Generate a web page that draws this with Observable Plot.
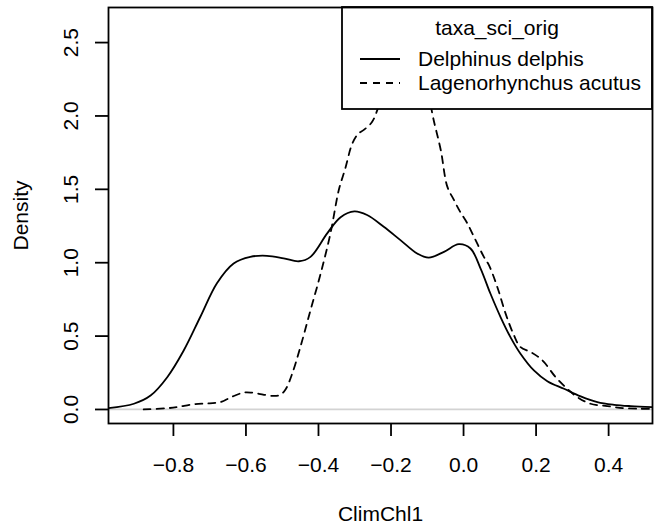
<!DOCTYPE html>
<html>
<head>
<meta charset="utf-8">
<script src="https://cdn.jsdelivr.net/npm/d3@7"></script>
<script src="https://cdn.jsdelivr.net/npm/@observablehq/plot@0.6"></script>
<style>
  html, body { margin: 0; padding: 0; background: #fff; }
  #chart svg { display: block; }
</style>
</head>
<body>
<div id="chart"></div>
<script>
// ---- data ----
const seriesNames = ["Delphinus delphis", "Lagenorhynchus acutus"];
const legendTitle = "taxa_sci_orig";
const xTitle = "ClimChl1";
const yTitle = "Density";
const xTicks = [-0.8, -0.6, -0.4, -0.2, 0.0, 0.2, 0.4];
const yTicks = [0.0, 0.5, 1.0, 1.5, 2.0, 2.5];
const xDomain = [-0.979, 0.521];
const yDomain = [-0.0956, 2.739];

const delphinusX = [-0.979,-0.909,-0.863,-0.817,-0.772,-0.726,-0.68,-0.634,-0.588,-0.542,-0.496,-0.454,-0.422,-0.376,-0.339,-0.301,-0.266,-0.22,-0.174,-0.128,-0.096,-0.054,-0.013,0.019,0.047,0.074,0.102,0.13,0.157,0.194,0.231,0.277,0.323,0.369,0.415,0.461,0.521];
const delphinusY = [0.009,0.039,0.095,0.22,0.40,0.63,0.86,0.995,1.04,1.047,1.03,1.01,1.04,1.2,1.31,1.35,1.325,1.245,1.154,1.063,1.035,1.074,1.126,1.097,0.96,0.79,0.63,0.49,0.38,0.266,0.193,0.141,0.089,0.05,0.032,0.023,0.016];

const lagenoX = [-0.882,-0.82,-0.79,-0.744,-0.70,-0.67,-0.64,-0.606,-0.585,-0.55,-0.523,-0.505,-0.49,-0.473,-0.45,-0.422,-0.394,-0.367,-0.344,-0.326,-0.307,-0.29,-0.275,-0.252,-0.235,-0.21,-0.18,-0.15,-0.12,-0.10,-0.084,-0.063,-0.045,-0.027,-0.01,0.01,0.03,0.056,0.07,0.093,0.116,0.139,0.157,0.185,0.205,0.222,0.254,0.286,0.314,0.35,0.396,0.442,0.488,0.521];
const lagenoY = [0.0,0.008,0.016,0.036,0.042,0.05,0.085,0.115,0.115,0.1,0.092,0.1,0.14,0.24,0.425,0.676,0.926,1.2,1.495,1.643,1.81,1.88,1.905,1.96,2.06,2.25,2.42,2.48,2.4,2.2,1.99,1.77,1.52,1.43,1.35,1.27,1.17,1.04,0.983,0.835,0.653,0.505,0.425,0.391,0.36,0.323,0.22,0.141,0.084,0.039,0.023,0.009,0.005,0.004];

// ---- build tables ----
const delphinus = delphinusX.map((x, i) => ({x, y: delphinusY[i], taxa: seriesNames[0]}));
const lageno = lagenoX.map((x, i) => ({x, y: lagenoY[i], taxa: seriesNames[1]}));

const fmt = d3.format(".1f");
const FONT = "'Liberation Sans', Arial, Helvetica, sans-serif";
const FS = 21;
const LW = 1.8;
const DASH = "7,6";

function legendMark(index, scales, values, dims) {
  const right = dims.width - dims.marginRight;
  const top = dims.marginTop;
  const w = 310, h = 102;
  const left = right - w;
  const g = d3.create("svg:g").attr("font-family", FONT).attr("font-size", FS);
  g.append("rect").attr("x", left).attr("y", top).attr("width", w).attr("height", h)
    .attr("fill", "white").attr("stroke", "black").attr("stroke-width", LW);
  g.append("text").attr("x", left + w / 2).attr("y", top + 21).attr("dy", "0.35em")
    .attr("text-anchor", "middle").attr("fill", "black").text(legendTitle);
  seriesNames.forEach((name, i) => {
    const yy = top + 52 + i * 24;
    g.append("line").attr("x1", left + 18).attr("x2", left + 58).attr("y1", yy).attr("y2", yy)
      .attr("stroke", "black").attr("stroke-width", LW)
      .attr("stroke-dasharray", i === 0 ? null : DASH);
    g.append("text").attr("x", left + 76).attr("y", yy).attr("dy", "0.35em")
      .attr("text-anchor", "start").attr("fill", "black").text(name);
  });
  return g.node();
}

const chart = Plot.plot({
  width: 654,
  height: 531,
  marginLeft: 108,
  marginRight: 2,
  marginTop: 7,
  marginBottom: 108,
  style: {fontFamily: FONT, fontSize: FS + "px", background: "white", color: "black"},
  x: {domain: xDomain},
  y: {domain: yDomain},
  marks: [
    Plot.ruleY([0], {stroke: "#d3d3d3", strokeWidth: 1.8}),
    Plot.line(delphinus, {x: "x", y: "y", stroke: "black", strokeWidth: LW, curve: "catmull-rom", clip: true}),
    Plot.line(lageno, {x: "x", y: "y", stroke: "black", strokeWidth: LW, strokeDasharray: DASH, curve: "catmull-rom", clip: true}),
    legendMark,
    Plot.frame({stroke: "black", strokeWidth: LW}),
    Plot.axisX({ticks: xTicks, tickSize: 13, tickFormat: () => "", label: null, strokeWidth: LW}),
    Plot.axisY({ticks: yTicks, tickSize: 13, tickFormat: () => "", label: null, strokeWidth: LW}),
    Plot.text(xTicks, {x: d => d, text: d => fmt(d), frameAnchor: "bottom", dy: 42, lineAnchor: "middle", fill: "black"}),
    Plot.text(yTicks, {y: d => d, text: d => fmt(d), frameAnchor: "left", dx: -37, rotate: -90, lineAnchor: "middle", textAnchor: "middle", fill: "black"}),
    Plot.text([xTitle], {text: d => d, frameAnchor: "bottom", dy: 91, lineAnchor: "middle", fill: "black"}),
    Plot.text([yTitle], {text: d => d, frameAnchor: "left", dx: -87, rotate: -90, lineAnchor: "middle", textAnchor: "middle", fill: "black"})
  ]
});
document.getElementById("chart").appendChild(chart);
</script>
</body>
</html>
